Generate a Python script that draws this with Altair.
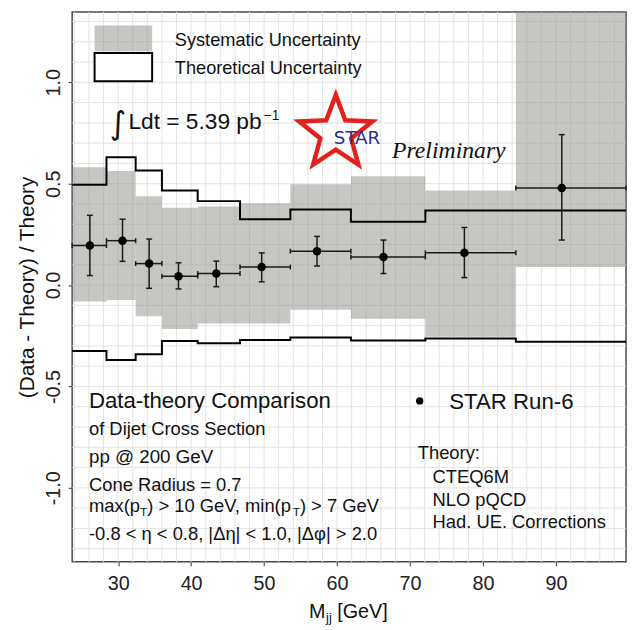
import math
import altair as alt
import pandas as pd

# ---------------- data ----------------
bin_edges = [23.7, 28.4, 32.4, 36.0, 40.9, 46.7, 53.6, 61.9, 72.1, 84.5, 99.6]
mjj_center = [26.13, 30.6, 34.25, 38.27, 43.45, 49.67, 57.25, 66.36, 77.45, 90.8]
ratio = [0.195, 0.219, 0.106, 0.044, 0.057, 0.089, 0.167, 0.138, 0.159, 0.479]
stat_hi = [0.344, 0.325, 0.227, 0.110, 0.118, 0.159, 0.240, 0.222, 0.284, 0.742]
stat_lo = [0.047, 0.117, -0.016, -0.019, -0.008, 0.016, 0.094, 0.057, 0.037, 0.222]
sys_hi = [0.581, 0.563, 0.438, 0.381, 0.388, 0.404, 0.497, 0.537, 0.466, 1.40]
sys_lo = [-0.081, -0.073, -0.154, -0.216, -0.190, -0.190, -0.122, -0.166, -0.255, 0.089]
theory_hi = [0.495, 0.630, 0.565, 0.466, 0.414, 0.325, 0.373, 0.312, 0.368, 0.368]
theory_lo = [-0.325, -0.369, -0.341, -0.276, -0.287, -0.271, -0.259, -0.273, -0.263, -0.279]
x_ticks = [30, 40, 50, 60, 70, 80, 90]
y_ticks = [-1.0, -0.5, 0.0, 0.5, 1.0]
x_grid = list(range(24, 100, 2))
y_grid = [round(-1.3 + 0.1 * i, 1) for i in range(27)]

# ---------------- tables ----------------
bins = pd.DataFrame({
    "lo": bin_edges[:-1], "hi": bin_edges[1:], "x": mjj_center, "y": ratio,
    "ehi": stat_hi, "elo": stat_lo, "shi": sys_hi, "slo": sys_lo,
})
steps = pd.DataFrame({
    "edge": bin_edges,
    "thi": theory_hi + [theory_hi[-1]],
    "tlo": theory_lo + [theory_lo[-1]],
})
one = pd.DataFrame({"k": [0]})

FONT = "Liberation Sans"
W = {' ': 278, '(': 333, ')': 333, '>': 584, '<': 584, '=': 584, ',': 278, '.': 278,
     '-': 333, '|': 260, '[': 278, ']': 278, '@': 1015, ':': 278, '\u2212': 584}
for c in "0123456789":
    W[c] = 556
W.update(dict(zip("abcdefghijklmnopqrstuvwxyz",
                  [556, 556, 500, 556, 556, 278, 556, 556, 222, 222, 500, 222, 833,
                   556, 556, 556, 556, 333, 500, 278, 556, 500, 722, 500, 500, 500])))
W.update(dict(zip("ABCDEFGHIJKLMNOPQRSTUVWXYZ",
                  [667, 667, 722, 722, 667, 611, 778, 722, 278, 500, 667, 556, 833,
                   722, 778, 667, 778, 722, 667, 611, 722, 667, 944, 667, 667, 611])))


def tw(s, size):
    return sum(W.get(c, 556) for c in s) / 1000.0 * size


xs = alt.Scale(domain=[bin_edges[0], bin_edges[-1]], nice=False, zero=False)
ys = alt.Scale(domain=[-1.365, 1.347], nice=False, zero=False)

xaxis = alt.Axis(values=x_ticks, format="d", grid=False, domain=False, title="",
                 labelFont=FONT, labelFontSize=20, labelColor="#222", labelPadding=8,
                 tickColor="#333", tickSize=4, tickWidth=1)
yaxis = alt.Axis(values=y_ticks, grid=False, domain=False,
                 title="(Data - Theory) / Theory",
                 labelExpr="replace(format(datum.value, '.1f'), '\u2212', '-')",
                 labelAngle=270, labelAlign="center", labelBaseline="bottom",
                 labelFont=FONT, labelFontSize=20, labelColor="#222", labelPadding=5,
                 tickColor="#333", tickSize=4, tickWidth=1,
                 titleFont=FONT, titleFontSize=21, titleFontWeight="normal",
                 titleColor="#111", titlePadding=6)


def X(f):
    return alt.X(f, scale=xs, axis=xaxis)


def Y(f):
    return alt.Y(f, scale=ys, axis=yaxis)


GRID = "#e3e3e3"
BAND = "#8e8e88"

grid_x = alt.Chart(pd.DataFrame({"g": x_grid})).mark_rule(color=GRID, strokeWidth=1).encode(
    x=X("g:Q"))
grid_y = alt.Chart(pd.DataFrame({"g": y_grid})).mark_rule(color=GRID, strokeWidth=1).encode(
    y=Y("g:Q"))

band = alt.Chart(bins).mark_rect(color=BAND, opacity=0.5, clip=True).encode(
    x=X("lo:Q"), x2="hi", y=Y("slo:Q"), y2="shi")

th_hi = alt.Chart(steps).mark_line(interpolate="step-after", color="black", strokeWidth=2).encode(
    x=X("edge:Q"), y=Y("thi:Q"))
th_lo = alt.Chart(steps).mark_line(interpolate="step-after", color="black", strokeWidth=2).encode(
    x=X("edge:Q"), y=Y("tlo:Q"))

EB = "#1a1a1a"
vbar = alt.Chart(bins).mark_rule(color=EB, strokeWidth=1.5).encode(
    x=X("x:Q"), y=Y("elo:Q"), y2="ehi")
hbar = alt.Chart(bins).mark_rule(color=EB, strokeWidth=1.5).encode(
    x=X("lo:Q"), x2="hi", y=Y("y:Q"))
cap_top = alt.Chart(bins).mark_tick(orient="horizontal", size=6, thickness=1.5, color=EB, opacity=1).encode(
    x=X("x:Q"), y=Y("ehi:Q"))
cap_bot = alt.Chart(bins).mark_tick(orient="horizontal", size=6, thickness=1.5, color=EB, opacity=1).encode(
    x=X("x:Q"), y=Y("elo:Q"))
cap_l = alt.Chart(bins).mark_tick(orient="vertical", size=5, thickness=1.5, color=EB, opacity=1).encode(
    x=X("lo:Q"), y=Y("y:Q"))
cap_r = alt.Chart(bins).mark_tick(orient="vertical", size=5, thickness=1.5, color=EB, opacity=1).encode(
    x=X("hi:Q"), y=Y("y:Q"))
pts = alt.Chart(bins).mark_circle(size=75, color="black", opacity=1).encode(
    x=X("x:Q"), y=Y("y:Q"))


def label(s, x, y, size, font=FONT, color="#111", style="normal", weight="normal"):
    return alt.Chart(one).mark_text(text=s, align="left", baseline="alphabetic", fontSize=size,
                                    font=font, color=color, fontStyle=style,
                                    fontWeight=weight).encode(x=alt.value(x), y=alt.value(y))


def composite(segments, x, y):
    """segments: list of (text, size, dy, gap_before)"""
    out = []
    cx = x
    for s, size, dy, gap in segments:
        cx += gap
        out.append(label(s, cx, y + dy, size))
        cx += tw(s, size)
    return out


annots = []
# legend boxes
annots.append(alt.Chart(one).mark_rect(color=BAND, opacity=0.5).encode(
    x=alt.value(22.7), x2=alt.value(81), y=alt.value(13.7), y2=alt.value(39.7)))
annots.append(alt.Chart(one).mark_rect(fill="white", stroke="black", strokeWidth=2).encode(
    x=alt.value(22.7), x2=alt.value(81), y=alt.value(41.5), y2=alt.value(70.3)))
annots.append(label("Systematic Uncertainty", 104, 34, 18.4))
annots.append(label("Theoretical Uncertainty", 104, 63, 18.4))

# luminosity
annots.append(label("\u222b", 38, 124, 32, font="DejaVu Sans"))
annots.append(label("Ldt = 5.39 pb", 57, 119, 23))
annots.append(label("\u22121", 57 + tw("Ldt = 5.39 pb", 23) + 2, 109, 14))

# STAR logo
star_pts = []
for k in range(10):
    a = math.radians(-90 + 36 * k)
    r = 1.0 if k % 2 == 0 else 0.42
    star_pts.append("%.3f %.3f" % (r * math.cos(a), r * math.sin(a)))
star_path = "M" + " L".join(star_pts) + " Z"
annots.append(alt.Chart(one).mark_point(shape=star_path, size=6084, filled=False,
                                        stroke="#e2211c", strokeWidth=4.5, opacity=1).encode(
    x=alt.value(267), y=alt.value(123)))
annots.append(label("STAR", 265, 134, 18.5, font="DejaVu Sans", color="#2b2f8f"))
annots.append(label("Preliminary", 324, 148, 24, font="Liberation Serif", style="italic"))

# left text block
annots.append(label("Data-theory Comparison", 17, 401, 22.5))
annots.append(label("of Dijet Cross Section", 17, 429, 18.6))
annots.append(label("pp @ 200 GeV", 17, 457, 19))
annots.append(label("Cone Radius = 0.7", 17, 485, 18.6))
annots += composite([("max(p", 18.6, 0, 0), ("T", 12, 4, 0), (")", 18.6, 0, 0),
                     ("> 10 GeV, min(p", 18.6, 0, tw(" ", 18.6)),
                     ("T", 12, 4, 0), (")", 18.6, 0, 0),
                     ("> 7 GeV", 18.6, 0, tw(" ", 18.6))], 17, 507)
annots.append(label("-0.8 < \u03b7 < 0.8, |\u0394\u03b7| < 1.0, |\u0394\u03c6| > 2.0", 17, 535, 18.6))

# right text block
annots.append(alt.Chart(one).mark_circle(size=55, color="black", opacity=1).encode(
    x=alt.value(352), y=alt.value(394)))
annots.append(label("STAR Run-6", 382, 402, 22.5))
annots.append(label("Theory:", 350, 453, 18.6))
annots.append(label("CTEQ6M", 365, 477, 18.6))
annots.append(label("NLO pQCD", 365, 500, 18.6))
annots.append(label("Had. UE. Corrections", 365, 523, 18.6))

# x-axis title with subscript
annots += composite([("M", 20, 0, 0), ("jj", 13, 4, 0.5), ("[GeV]", 20, 0, tw(" ", 20))], 240, 614)

chart = alt.layer(
    grid_x, grid_y, band, th_hi, th_lo, hbar, vbar, cap_top, cap_bot, cap_l, cap_r, pts, *annots
).properties(
    width=561, height=557,
    padding={"left": 65, "top": 0, "right": 2, "bottom": 64},
    autosize=alt.AutoSizeParams(type="none"),
    background="white",
).configure_view(stroke="#4a4a4a", strokeWidth=1.5)

chart.save("out.html", embed_options={"renderer": "svg", "actions": False})
